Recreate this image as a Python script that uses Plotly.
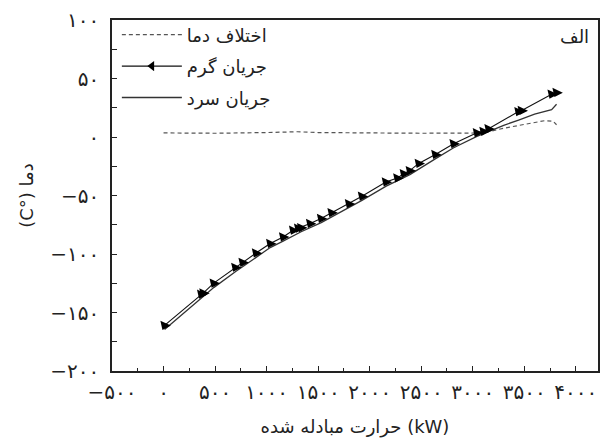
import plotly.graph_objects as go

# ---- data ----
hot_x = [10, 365, 387, 487, 696, 767, 897, 1035, 1160, 1257, 1306, 1335, 1422, 1528, 1630,
         1799, 1925, 2157, 2268, 2331, 2389, 2476, 2637, 2814, 3040, 3104, 3153, 3443, 3475,
         3765, 3813]
hot_y = [-161, -134.4, -133.3, -124.9, -111.4, -107.2, -99.2, -91.0, -85.4, -79.7, -78.0, -77.5,
         -73.9, -69.7, -64.7, -57.1, -50.7, -38.5, -35.1, -31.3, -28.7, -22.6, -15.0, -5.7, 3.6,
         4.8, 7.0, 21.7, 22.6, 36.6, 38.0]

cold_x = [10, 365, 490, 700, 900, 1035, 1160, 1335, 1530, 1800, 1925, 2160, 2390, 2640, 2815,
          3040, 3150, 3300, 3445, 3600, 3765, 3813]
cold_y = [-164.5, -138, -128.5, -115, -102.5, -94.5, -89, -81, -73.2, -60.6, -54.2, -42, -32.2,
          -18.5, -9.2, 0.5, 4.5, 10, 14.5, 19.5, 23.4, 28]

diff_x = [0, 500, 1000, 1300, 1500, 2000, 2500, 3000, 3150, 3300, 3500, 3700, 3780, 3813]
diff_y = [3.5, 3.2, 3.8, 4.5, 3.8, 3.3, 3.2, 3.4, 4.5, 7.5, 11, 14, 13.5, 10.5]

x_ticks = [-500, 0, 500, 1000, 1500, 2000, 2500, 3000, 3500, 4000]
x_ticktext = ["−۵۰۰", "۰", "۵۰۰", "۱۰۰۰", "۱۵۰۰", "۲۰۰۰", "۲۵۰۰", "۳۰۰۰", "۳۵۰۰", "۴۰۰۰"]
y_ticks = [-200, -150, -100, -50, 0, 50, 100]
y_ticktext = ["−۲۰۰", "−۱۵۰", "−۱۰۰", "−۵۰", "۰", "۵۰", "۱۰۰"]

name_diff = "اختلاف دما"
name_hot = "جریان گرم"
name_cold = "جریان سرد"
x_title = "حرارت مبادله شده (kW)"
y_title = "(C°) دما"
panel_label = "الف"

FONT = "DejaVu Sans"

fig = go.Figure()

fig.add_trace(go.Scatter(x=diff_x, y=diff_y, mode="lines", name=name_diff,
                         line=dict(color="#555555", width=1.2, dash="4px,3px"),
                         legendgroup="a"))
# legend entry for hot stream
fig.add_trace(go.Scatter(x=[None], y=[None], mode="lines+markers", name=name_hot,
                         line=dict(color="#111111", width=1.2),
                         marker=dict(symbol="triangle-left", size=9, color="#000000"),
                         legendgroup="b"))
fig.add_trace(go.Scatter(x=cold_x, y=cold_y, mode="lines", name=name_cold,
                         line=dict(color="#333333", width=1.3), legendgroup="c"))
fig.add_trace(go.Scatter(x=hot_x, y=hot_y, mode="lines+markers", showlegend=False,
                         line=dict(color="#111111", width=1.1),
                         marker=dict(symbol="triangle-down", size=10, color="#000000", angle=25),
                         legendgroup="b"))

fig.update_layout(
    width=608, height=445,
    margin=dict(l=112, r=8, t=16, b=74),
    paper_bgcolor="white", plot_bgcolor="white",
    font=dict(family=FONT, size=18, color="#222222"),
    showlegend=True,
    legend=dict(x=0.01, y=1.01, xanchor="left", yanchor="top",
                bgcolor="rgba(0,0,0,0)", font=dict(size=18, family=FONT),
                traceorder="grouped", tracegroupgap=5, itemwidth=60),
    annotations=[dict(text=panel_label, xref="paper", yref="paper", x=0.985, y=0.99,
                      xanchor="right", yanchor="top",
                      showarrow=False, font=dict(size=18, family=FONT))],
)

fig.update_xaxes(range=[-500, 4215], tickvals=x_ticks, ticktext=x_ticktext, tickangle=0,
                 ticks="inside", ticklen=5, tickcolor="#222222", showgrid=False, zeroline=False,
                 showline=True, linecolor="#222222", linewidth=1.5, mirror=True,
                 minor=dict(dtick=250, ticks="inside", ticklen=3, tickcolor="#222222"),
                 ticklabelstandoff=2, tickfont=dict(size=20),
                 title=dict(text=x_title, font=dict(size=18, family=FONT), standoff=18))
fig.update_yaxes(range=[-200, 100], tickvals=y_ticks, ticktext=y_ticktext,
                 ticks="inside", ticklen=5, tickcolor="#222222", showgrid=False, zeroline=False,
                 showline=True, linecolor="#222222", linewidth=1.5, mirror=True,
                 minor=dict(dtick=25, ticks="inside", ticklen=5, tickcolor="#222222"),
                 ticklabelstandoff=7, tickfont=dict(size=20),
                 title=dict(text=y_title, font=dict(size=18, family=FONT), standoff=12))

fig.write_html("out.html")
